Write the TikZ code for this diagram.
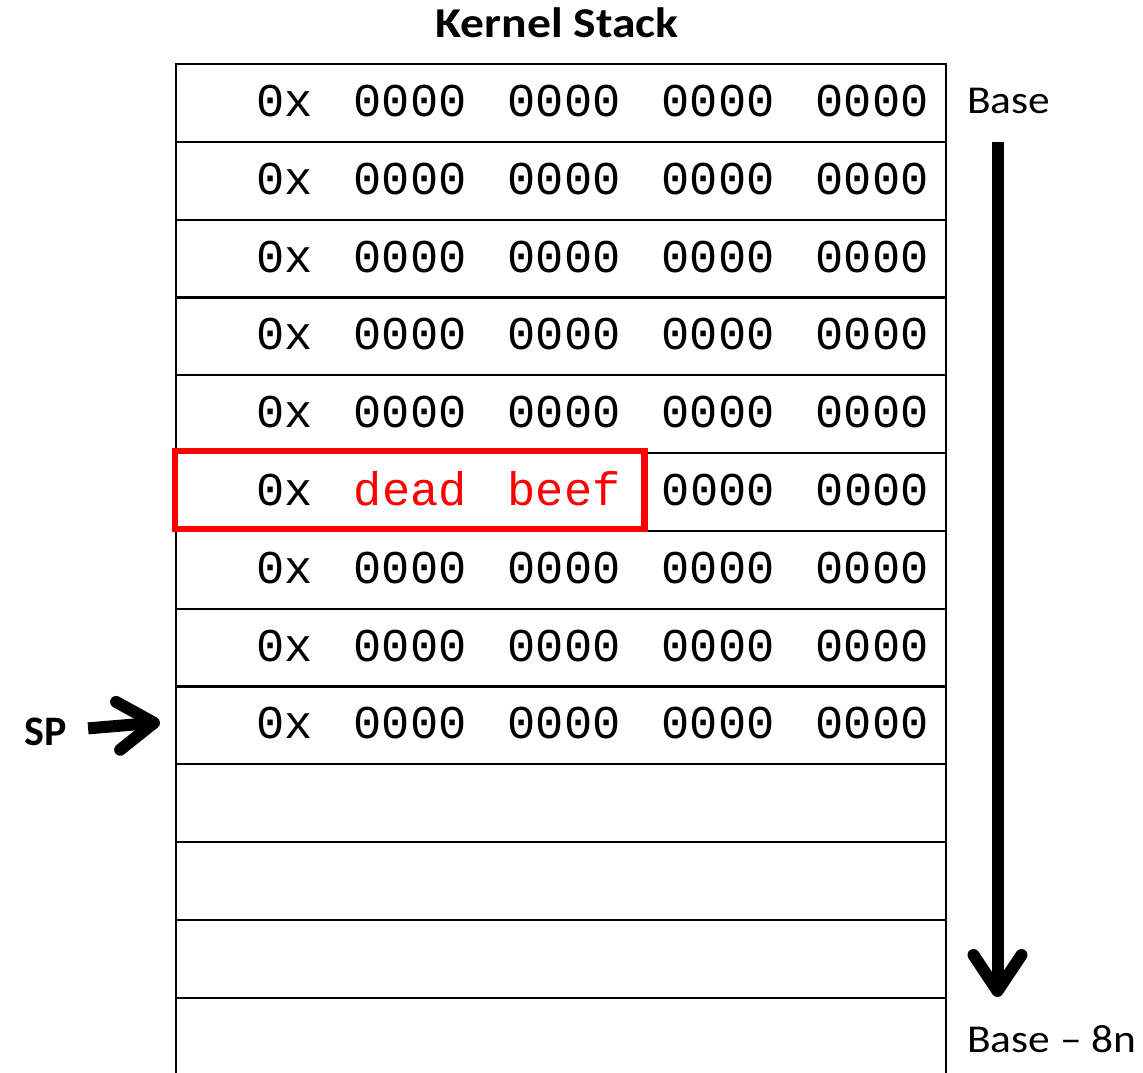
\documentclass[tikz,border=0pt]{standalone}
\usepackage{fontspec}
\setmainfont{Carlito}
\newfontfamily\hexfont{Liberation Mono}
\newfontfamily\widefont[FakeStretch=1.1]{Carlito}
\newfontfamily\titlefont[FakeStretch=1.12]{Carlito}
\usetikzlibrary{arrows.meta,calc}
\definecolor{hlred}{RGB}{255,0,0}
\newcommand{\hexsp}{\spaceskip=41.2pt\relax}
\begin{document}
\begin{tikzpicture}[x=1pt,y=-1pt,
  cell/.style={draw, line width=2.2pt, minimum width=770pt, minimum height=77.8pt,
    inner sep=0pt, outer sep=0pt, anchor=north west},
  hex/.style={font=\hexfont\fontsize{47}{47}\selectfont,
    inner sep=0pt, anchor=base west},
  lbl/.style={font=\widefont\fontsize{39.5}{40}\selectfont, inner sep=0pt},
  blbl/.style={font=\bfseries\fontsize{42}{42}\selectfont, inner sep=0pt},
  tlbl/.style={font=\titlefont\bfseries\fontsize{42.5}{42.5}\selectfont, inner sep=0pt},
  fat/.style={line width=12pt, -{Straight Barb[length=36pt, width=48pt, round]}},
  hlbox/.style={draw=hlred, line width=6.5pt, minimum width=469.5pt, minimum height=78pt,
    inner sep=0pt, outer sep=0pt, anchor=north west}
]
\useasboundingbox (0,0) rectangle (1143,1073);
\fill[white] (0,0) rectangle (1143,1073);
\begin{scope}
\clip (0,0) rectangle (1143,1073);
\foreach \i in {1,...,13}{
  \node[cell] (r\i) at (176,{64+(\i-1)*77.8}) {};
}
\end{scope}
\foreach \i in {1,2,3,4,5,7,8,9}{
  \node[hex] (t\i) at ([xshift=80pt,yshift=-13.5pt]r\i.west) {\hexsp 0x 0000 0000 0000 0000};
}
\node[hex] (t6) at ([xshift=80pt,yshift=-13.5pt]r6.west) {\hexsp 0x \textcolor{hlred}{dead beef} 0000 0000};
\node[hlbox] (hl) at (175,451) {};

\node[tlbl, anchor=base] (title) at (557,37.5) {Kernel Stack};
\node[lbl, anchor=base west] (base) at (967,113) {Base};
\node[lbl, anchor=base west] (base8) at (967,1052) {Base – 8n};
\node[blbl, anchor=base west] (sp) at (24.5,745) {SP};

\coordinate (atop) at (997.5,142);
\coordinate (abot) at (997.5,997);
\draw[fat] (atop) -- (abot);
\draw[fat] ([xshift=21pt,yshift=3pt]sp.east) -- ([xshift=-16pt,yshift=3pt]r9.west);
\end{tikzpicture}
\end{document}
